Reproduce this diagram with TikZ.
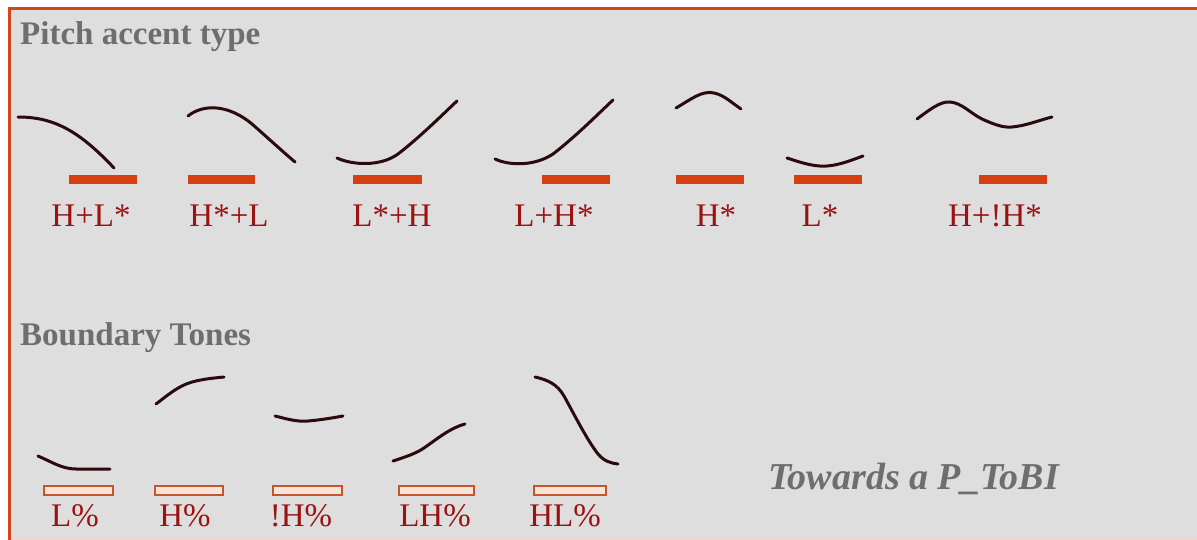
\documentclass[tikz,border=0pt]{standalone}
\usepackage{fontspec}
\setmainfont{Liberation Serif}
\definecolor{frameor}{HTML}{D4461A}
\definecolor{baror}{HTML}{D63F10}
\definecolor{bgray}{HTML}{DEDEDE}
\definecolor{lab}{HTML}{9A1212}
\definecolor{ttl}{HTML}{6E6E6E}
\definecolor{crv}{HTML}{2A0A0C}
\definecolor{boxfill}{HTML}{F2E6DA}
\definecolor{boxline}{HTML}{C8542E}
\definecolor{botline}{HTML}{F0D6CC}
\tikzset{
  curve/.style={draw=crv, line width=3pt, line cap=round},
  abar/.style={fill=baror, draw=none},
  bbar/.style={fill=boxfill, draw=boxline, line width=1.3pt},
  lbl/.style={anchor=base, inner sep=0pt, text=lab, font=\fontsize{33}{38}\selectfont},
  ttlstyle/.style={anchor=base west, inner sep=0pt, text=ttl, font=\bfseries\fontsize{33}{40}\selectfont},
}
\begin{document}
\begin{tikzpicture}[x=1pt,y=-1pt]
\useasboundingbox (0,0) rectangle (1197,540);
\fill[white] (0,0) rectangle (1197,540);
\fill[bgray] (8,8) rectangle (1197,540);
\draw[frameor, line width=3.5pt] (9.5,540) -- (9.5,8.5) -- (1197,8.5);
\draw[botline, line width=2pt] (11,539) -- (1197,539);

\node[ttlstyle] (t1) at (20,45) {Pitch accent type};
\node[ttlstyle] (t2) at (20,345) {Boundary Tones};

% pitch accent bars
\path[abar] (69,175) rectangle (137,184);
\path[abar] (188,175) rectangle (255,184);
\path[abar] (353,175) rectangle (422,184);
\path[abar] (542,175) rectangle (610,184);
\path[abar] (676,175) rectangle (744,184);
\path[abar] (794,175) rectangle (862,184);
\path[abar] (979,175) rectangle (1047,184);

% pitch accent labels
\node[lbl] (a1) at (91,227) {H+L*};
\node[lbl] (a2) at (229,227) {H*+L};
\node[lbl] (a3) at (392,227) {L*+H};
\node[lbl] (a4) at (554,227) {L+H*};
\node[lbl] (a5) at (716,227) {H*};
\node[lbl] (a6) at (820,227) {L*};
\node[lbl] (a7) at (995,227) {H+!H*};

% pitch accent contours
\draw[curve] (18,117) .. controls (55,117) and (80,132) .. (114,168);
\draw[curve] (188,116) .. controls (203,104) and (228,104) .. (252,124) .. controls (268,138) and (282,151) .. (295,162);
\draw[curve] (337,158) .. controls (352,165) and (380,167) .. (398,154) .. controls (420,137) and (440,117) .. (457,101);
\draw[curve] (495,159) .. controls (510,166) and (535,166) .. (553,154) .. controls (575,137) and (595,117) .. (613,100);
\draw[curve] (676,108) .. controls (690,100) and (702,90) .. (714,93) .. controls (724,95) and (732,103) .. (741,109);
\draw[curve] (787,158) .. controls (802,163) and (815,167) .. (827,166) .. controls (840,165) and (852,160) .. (863,156);
\draw[curve] (917,119) .. controls (928,111) and (940,101) .. (950,102) .. controls (962,103) and (970,113) .. (982,119) .. controls (993,124) and (1003,128) .. (1012,127) .. controls (1025,126) and (1040,120) .. (1052,117);

% boundary boxes
\path[bbar] (44,486) rectangle (113,495);
\path[bbar] (155,486) rectangle (223,495);
\path[bbar] (273,486) rectangle (342,495);
\path[bbar] (399,486) rectangle (474,495);
\path[bbar] (534,486) rectangle (606,495);

% boundary labels
\node[lbl] (b1) at (75,526) {L\%};
\node[lbl] (b2) at (185,526) {H\%};
\node[lbl] (b3) at (301,526) {!H\%};
\node[lbl] (b4) at (435,526) {LH\%};
\node[lbl] (b5) at (565,526) {HL\%};

% boundary contours
\draw[curve] (38,456) .. controls (52,462) and (62,469) .. (76,469) -- (110,469);
\draw[curve] (156,404) .. controls (168,395) and (178,386) .. (192,382) .. controls (203,379) and (214,378) .. (224,377);
\draw[curve] (275,416) .. controls (287,419) and (297,422) .. (308,421) .. controls (320,420) and (332,418) .. (343,416);
\draw[curve] (393,461) .. controls (405,457) and (415,454) .. (424,448) .. controls (437,439) and (450,428) .. (465,424);
\draw[curve] (535,377) .. controls (548,380) and (557,384) .. (564,396) .. controls (574,414) and (587,440) .. (598,454) .. controls (604,461) and (610,463) .. (618,464);

\node[anchor=base west, inner sep=0pt, text=ttl, font=\bfseries\itshape\fontsize{38}{44}\selectfont] (tw) at (768,489) {Towards a P\_ToBI};
\end{tikzpicture}
\end{document}
